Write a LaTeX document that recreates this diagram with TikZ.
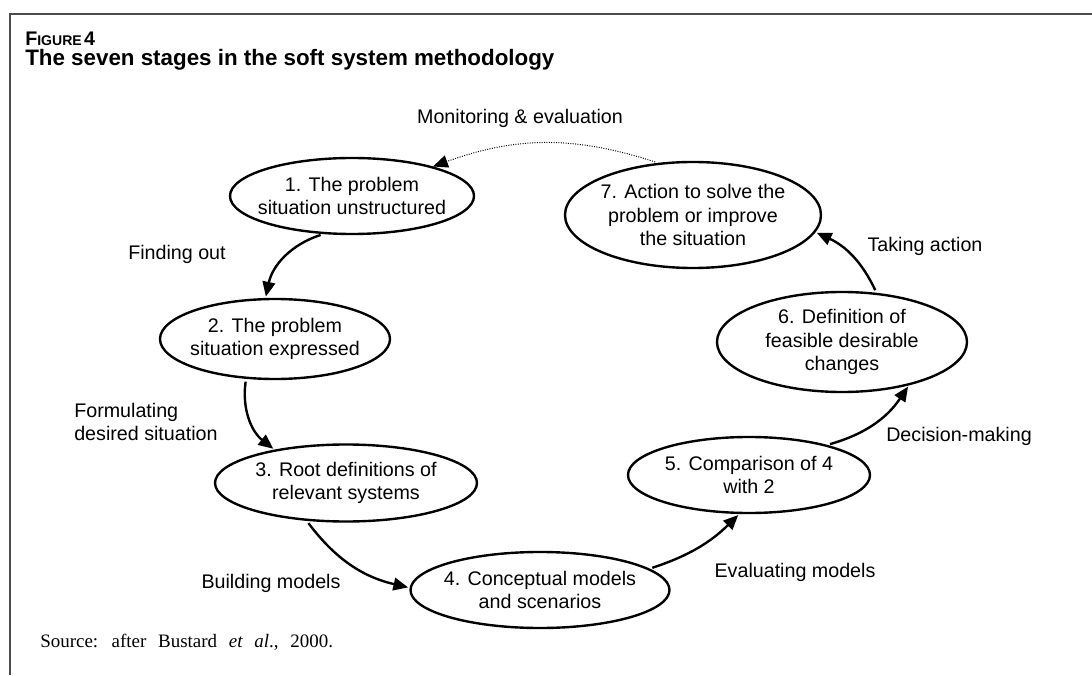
\documentclass[tikz,border=0pt]{standalone}
\usepackage{fontspec}
\setmainfont{Liberation Sans}
\newfontfamily\srcfont{Liberation Serif}
\usetikzlibrary{arrows.meta,shapes.geometric}

\tikzset{
  stage/.style={draw, ellipse, line width=1.7pt, inner xsep=-2cm, inner ysep=-1cm, align=center,
    font=\fontsize{14}{16.7}\selectfont},
  lbl/.style={font=\fontsize{14}{16.7}\selectfont},
  flow/.style={-{Triangle[length=10.5pt,width=9pt]}, line width=1.7pt,
    shorten <=2pt, shorten >=1pt},
}

\begin{document}
\begin{tikzpicture}
	\useasboundingbox (0,0) rectangle (27.3,16.875);
	\draw[black!70, line width=1.4pt] (27.3,16.525) -| (0.25,0);
	% heading
	\node[anchor=base west, font=\bfseries, inner sep=0pt] (fig) at (0.625,15.725)
		{{\fontsize{14}{16}\selectfont F}{\fontsize{10}{12}\selectfont IGURE}\,{\fontsize{14}{16}\selectfont 4}};
	\node[anchor=base west, font=\bfseries\fontsize{15.9}{18}\selectfont, inner sep=0pt] (title) at (0.625,15.225)
		{The seven stages in the soft system methodology};
	% the seven stages
	\node[stage, minimum width=6.1cm, minimum height=1.9cm] (s1) at (8.8,11.975) {1. The problem\\situation unstructured};
	\node[stage, minimum width=5.75cm, minimum height=2.0cm] (s2) at (6.875,8.4) {2. The problem\\situation expressed};
	\node[stage, minimum width=6.55cm, minimum height=1.925cm] (s3) at (8.65,4.8) {3. Root definitions of\\relevant systems};
	\node[stage, minimum width=6.475cm, minimum height=1.9cm] (s4) at (13.5,2.125) {4. Conceptual models\\and scenarios};
	\node[stage, minimum width=6.05cm, minimum height=1.9cm] (s5) at (18.725,5.0) {5. Comparison of 4\\with 2};
	\node[stage, minimum width=6.25cm, minimum height=2.5cm] (s6) at (21.05,8.325) {6. Definition of\\feasible desirable\\changes};
	\node[stage, minimum width=6.4cm, minimum height=2.65cm] (s7) at (17.325,11.5) {7. Action to solve the\\problem or improve\\the situation};
	% activities
	\node[lbl] (mon) at (13.0,13.925) {Monitoring \& evaluation};
	\node[lbl] (find) at (4.425,10.525) {Finding out};
	\node[lbl, anchor=west, align=left, inner sep=0pt] (form) at (1.85,6.325) {Formulating\\desired situation};
	\node[lbl] (build) at (6.775,2.3) {Building models};
	\node[lbl] (eval) at (19.875,2.575) {Evaluating models};
	\node[lbl] (dec) at (23.975,5.975) {Decision-making};
	\node[lbl] (take) at (23.125,10.725) {Taking action};
	% arrows round the cycle
	\draw[flow] (s1.233) to[bend right=30] (s2.103);
	\draw[flow] (s2.234) to[bend right=30] (s3.155);
	\draw[flow] (s3.224) to[bend right=20] (s4.179);
	\draw[flow] (s4.11) to[bend right=13] (s5.256);
	\draw[flow] (s5.21) to[bend right=20] (s6.327);
	\draw[flow] (s6.55) to[bend right=20] (s7.352);
	\draw[-{Triangle[length=10.5pt,width=9pt]}, line width=0.7pt, densely dotted, shorten <=2pt]
		(s7.124) to[bend right=19] (s1.20);
	% source
	\node[anchor=base west, font=\srcfont\fontsize{13.5}{15}\selectfont, inner sep=0pt] (src) at (1.0,0.7)
		{\spaceskip=0.62em Source: after Bustard \textit{et al}., 2000.};
\end{tikzpicture}
\end{document}
